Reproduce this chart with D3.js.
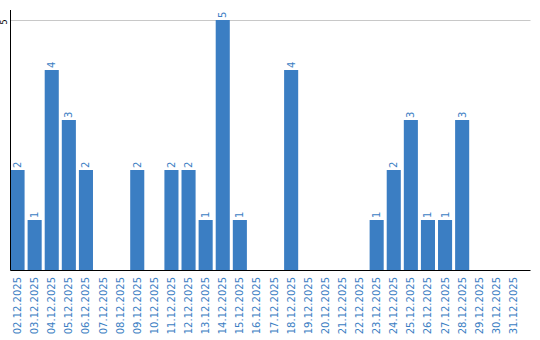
<!DOCTYPE html>
<html>
<head>
<meta charset="utf-8">
<script src="https://cdnjs.cloudflare.com/ajax/libs/d3/7.8.5/d3.min.js"></script>
<style>
  body { margin: 0; background: #fff; }
  text { font-family: "DejaVu Sans", sans-serif; }
</style>
</head>
<body>
<div id="chart"></div>
<script>
// Daily counts, December 2025
var dates = ["02.12.2025", "03.12.2025", "04.12.2025", "05.12.2025", "06.12.2025",
    "07.12.2025", "08.12.2025", "09.12.2025", "10.12.2025", "11.12.2025",
    "12.12.2025", "13.12.2025", "14.12.2025", "15.12.2025", "16.12.2025",
    "17.12.2025", "18.12.2025", "19.12.2025", "20.12.2025", "21.12.2025",
    "22.12.2025", "23.12.2025", "24.12.2025", "25.12.2025", "26.12.2025",
    "27.12.2025", "28.12.2025", "29.12.2025", "30.12.2025", "31.12.2025"];
var counts = [2, 1, 4, 3, 2, 0, 0, 2, 0, 2, 2, 1, 5, 1, 0, 0, 4, 0, 0, 0, 0, 1, 2, 3, 1, 1, 3, 0, 0, 0];
var yTicks = [5];

var width = 540, height = 340;
var plot = {left: 10.5, right: 530.5, top: 20, bottom: 270};
var barColor = "#3b7ec3";

var data = dates.map((d, i) => ({date: d, value: counts[i]}));

var svg = d3.select("#chart")
    .append("svg")
        .attr("width", width)
        .attr("height", height);

var x = d3.scaleBand()
    .domain(dates)
    .range([plot.left, plot.left + 17 * dates.length])
    .paddingInner(3 / 17)
    .paddingOuter(0)
    .align(0);

var y = d3.scaleLinear()
    .domain([0, 5])
    .range([plot.bottom, plot.top]);

// gridlines
svg.selectAll("line.grid")
    .data(yTicks)
    .enter()
    .append("line")
        .attr("x1", plot.left)
        .attr("x2", plot.right)
        .attr("y1", d => Math.round(y(d)) + 0.5)
        .attr("y2", d => Math.round(y(d)) + 0.5)
        .attr("stroke", "#c8c8c8");

// y tick labels
svg.selectAll("text.ytick")
    .data(yTicks)
    .enter()
    .append("text")
        .attr("transform", d => `translate(7, ${y(d) + 2}) rotate(-90)`)
        .attr("text-anchor", "middle")
        .attr("font-size", "8px")
        .attr("fill", "#000")
        .text(d => d);

// bars
svg.selectAll("rect.bar")
    .data(data)
    .enter()
    .append("rect")
        .attr("x", d => x(d.date))
        .attr("y", d => y(d.value))
        .attr("width", x.bandwidth())
        .attr("height", d => plot.bottom - y(d.value))
        .attr("fill", barColor);

// value labels
svg.selectAll("text.val")
    .data(data.filter(d => d.value > 0))
    .enter()
    .append("text")
        .attr("transform", d => `translate(${x(d.date) + x.bandwidth() / 2 + 3.5}, ${y(d.value) - 2}) rotate(-90)`)
        .attr("font-size", "10px")
        .attr("fill", barColor)
        .text(d => d.value);

// x labels
var xAxis = d3.axisBottom(x).tickSize(0).tickPadding(0);
var gx = svg.append("g")
    .attr("transform", `translate(0, ${plot.bottom})`)
    .call(xAxis);
gx.attr("font-family", null).attr("font-size", null);
gx.select(".domain").remove();
gx.selectAll("text")
    .attr("transform", "translate(3.5, 7) rotate(-90)")
    .attr("text-anchor", "end")
    .attr("dy", 0)
    .attr("y", 0)
    .attr("font-size", "10px")
    .attr("fill", barColor);

// axes lines
svg.append("line")
    .attr("x1", plot.left).attr("x2", plot.left)
    .attr("y1", 10).attr("y2", plot.bottom + 0.5)
    .attr("stroke", "#000");
svg.append("line")
    .attr("x1", plot.left).attr("x2", plot.right)
    .attr("y1", plot.bottom + 0.5).attr("y2", plot.bottom + 0.5)
    .attr("stroke", "#000");
</script>
</body>
</html>
